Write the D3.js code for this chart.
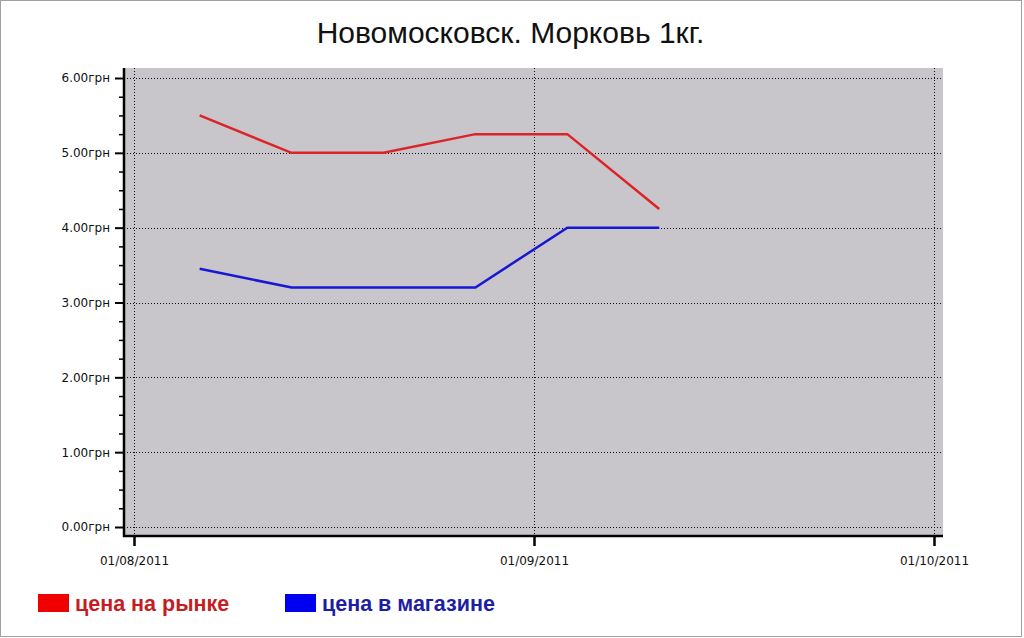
<!DOCTYPE html>
<html><head><meta charset="utf-8">
<script src="https://cdn.jsdelivr.net/npm/d3@7"></script>
<style>
html,body{margin:0;padding:0;background:#fff;}
svg{display:block;}
</style></head>
<body>
<svg id="c" width="1024" height="638"></svg>
<script>
const title = "Новомосковск. Морковь 1кг.";
const dates = ["2011-08-06","2011-08-13","2011-08-20","2011-08-27","2011-09-03","2011-09-10"];
const marketPrice = [5.50, 5.00, 5.00, 5.25, 5.25, 4.25];
const storePrice  = [3.45, 3.20, 3.20, 3.20, 4.00, 4.00];
const seriesNames = ["цена на рынке", "цена в магазине"];
const xTickLabels = ["01/08/2011","01/09/2011","01/10/2011"];
const xDomain = ["2011-08-01","2011-10-01"];
const yTicks = [0,1,2,3,4,5,6];

const parse = d3.utcParse("%Y-%m-%d");
const svg = d3.select("#c");

// frame
svg.append("rect").attr("x",0.5).attr("y",0.5).attr("width",1021).attr("height",636)
  .attr("fill","#fff").attr("stroke","#a0a0a0");

const L=124, R=943, T=68, B=536;
const x = d3.scaleUtc().domain(xDomain.map(parse)).range([134,935]);
const xt = d3.scalePoint().domain(xTickLabels).range([134,934]);
const y = d3.scaleLinear().domain([0,6]).range([527,78]);

svg.append("rect").attr("x",L).attr("y",T).attr("width",R-L).attr("height",B-T).attr("fill","#c8c6ca");

// grid
const grid = svg.append("g").attr("stroke","#111").attr("stroke-width",1).attr("stroke-dasharray","1,2");
yTicks.forEach(v=>{
  grid.append("line").attr("x1",L).attr("x2",R).attr("y1",Math.round(y(v))+0.5).attr("y2",Math.round(y(v))+0.5);
});
xTickLabels.forEach(d=>{
  grid.append("line").attr("y1",T).attr("y2",B).attr("x1",Math.round(xt(d))+0.5).attr("x2",Math.round(xt(d))+0.5);
});

// lines
const line = d3.line().x(d=>x(d[0])).y(d=>y(d[1]));
const dd = dates.map(parse);
svg.append("path").datum(dd.map((d,i)=>[d,marketPrice[i]])).attr("d",line)
  .attr("fill","none").attr("stroke","#dc2428").attr("stroke-width",2.5).attr("stroke-linejoin","miter");
svg.append("path").datum(dd.map((d,i)=>[d,storePrice[i]])).attr("d",line)
  .attr("fill","none").attr("stroke","#1818d4").attr("stroke-width",2.5).attr("stroke-linejoin","miter");

// y axis
const minor = [];
for(let v=0; v<6; v+=0.25){ if(v%1!==0) minor.push(v); }
const yMinor = svg.append("g").attr("transform",`translate(${L},0)`)
  .call(d3.axisLeft(y).tickValues(minor).tickSize(5).tickFormat(""));
yMinor.select(".domain").remove();
yMinor.selectAll("line").attr("stroke","#000").attr("stroke-width",1.5);
const yAx = svg.append("g").attr("transform",`translate(${L},0)`)
  .call(d3.axisLeft(y).tickValues(yTicks).tickSize(9).tickPadding(5).tickFormat(d=>d.toFixed(2)+"грн"));
yAx.select(".domain").remove();
yAx.selectAll("line").attr("stroke","#000").attr("stroke-width",2);
yAx.selectAll("text").attr("font-family","DejaVu Sans").attr("font-size","12px").attr("fill","#111");

// x axis
const xAx = svg.append("g").attr("transform",`translate(0,${B})`)
  .call(d3.axisBottom(xt).tickSize(10).tickPadding(10));
xAx.select(".domain").remove();
xAx.selectAll("line").attr("stroke","#000").attr("stroke-width",2.5);
xAx.selectAll("text").attr("font-family","DejaVu Sans").attr("font-size","12px").attr("fill","#111");

// axis lines
svg.append("line").attr("x1",L).attr("x2",L).attr("y1",T).attr("y2",B+1).attr("stroke","#000").attr("stroke-width",2.5);
svg.append("line").attr("x1",L-1).attr("x2",R).attr("y1",B).attr("y2",B).attr("stroke","#000").attr("stroke-width",2.5);

// title
svg.append("text").attr("x",510.5).attr("y",43).attr("text-anchor","middle")
  .attr("font-family","Liberation Sans, Arial").attr("font-size","30px").attr("fill","#111").text(title);

// legend
const legend = [
  {name:seriesNames[0], box:"#f00000", text:"#c41e24", x:38},
  {name:seriesNames[1], box:"#0000f0", text:"#1e1ea0", x:285}
];
legend.forEach(l=>{
  svg.append("rect").attr("x",l.x).attr("y",594).attr("width",31).attr("height",18).attr("fill",l.box);
  svg.append("text").attr("x",l.x+37).attr("y",611).attr("font-family","Liberation Sans, Arial")
    .attr("font-size","21.5px").attr("font-weight","bold").attr("fill",l.text).text(l.name);
});
</script>
</body></html>
